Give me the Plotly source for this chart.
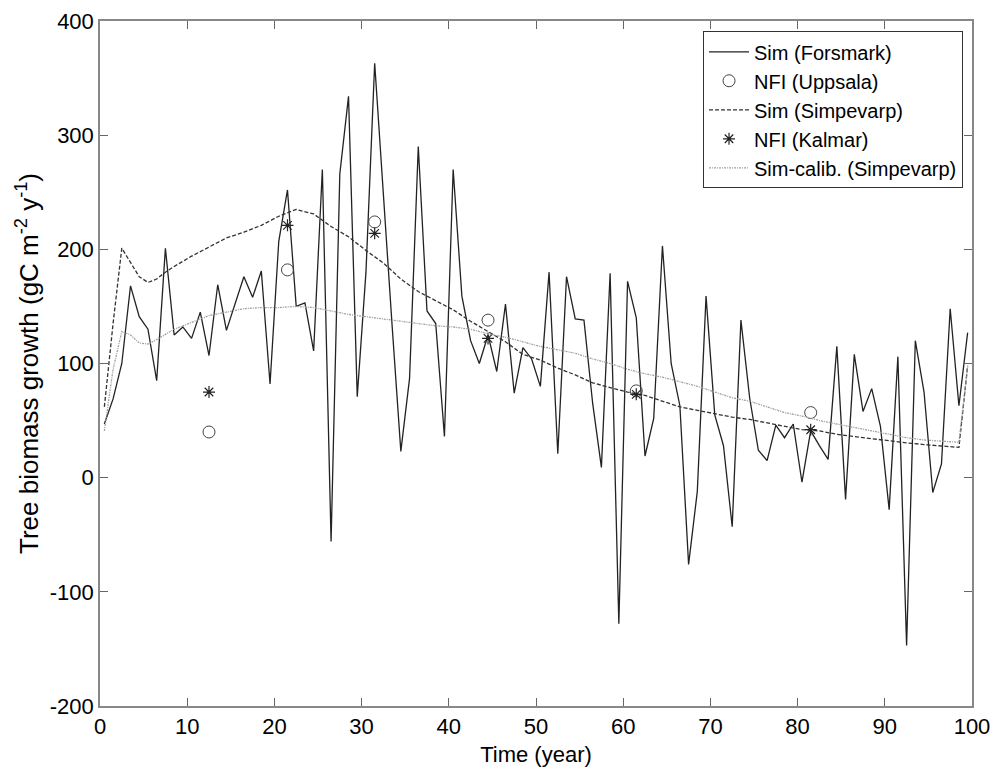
import plotly.graph_objects as go

# ---- data ----
forsmark_years = [i + 0.5 for i in range(100)]
forsmark = [47, 69, 100, 168, 141, 130, 85, 201, 125, 132,
            122, 145, 107, 169, 129, 152, 176, 158, 181, 82,
            207, 252, 150, 153, 111, 270, -56, 266, 334, 71,
            180, 363, 245, 133, 23, 87, 290, 146, 135, 36,
            270, 159, 120, 100, 125, 93, 152, 74, 114, 104,
            80, 180, 21, 176, 139, 138, 65, 9, 179, -128,
            172, 140, 19, 52, 203, 100, 63, -76, -12, 159,
            55, 28, -43, 138, 70, 24, 15, 46, 35, 47,
            -4, 41, 28, 16, 115, -19, 108, 58, 78, 45,
            -28, 106, -147, 120, 75, -13, 12, 148, 63, 127]

simp_years = [0.5, 1.5, 2.5, 3.5, 4.5, 5.5, 6.5, 7.5, 8.5, 10.5, 12.5, 14.5, 16.5,
              18.5, 20.5, 22.5, 24.5, 26.5, 28.5, 30.5, 32.5, 34.5, 36.5, 38.5,
              40.5, 42.5, 44.5, 46.5, 48.5, 50.5, 52.5, 54.5, 56.5, 58.5, 60.5,
              62.5, 64.5, 66.5, 68.5, 70.5, 72.5, 74.5, 76.5, 78.5, 80.5, 82.5,
              84.5, 86.5, 88.5, 90.5, 92.5, 94.5, 96.5, 98.5, 99.5]
simpevarp = [62, 135, 201, 188, 176, 171, 174, 180, 185, 194, 202, 210, 215,
             221, 229, 235, 231, 220, 211, 199, 188, 174, 163, 155,
             147, 137, 128, 119, 108, 103, 96, 90, 83, 79, 75,
             72, 67, 62, 59, 56, 53, 51, 48, 45, 42, 41,
             38, 36, 34, 32.5, 30.5, 29, 27.5, 26.5, 98]

calib_years = [0.5, 1.5, 2.5, 3.5, 4.5, 5.5, 6.5, 8.5, 10.5, 12.5, 14.5, 16.5,
               18.5, 20.5, 22.5, 24.5, 26.5, 28.5, 30.5, 32.5, 34.5, 36.5, 38.5,
               40.5, 42.5, 44.5, 46.5, 48.5, 50.5, 52.5, 54.5, 56.5, 58.5, 60.5,
               62.5, 64.5, 66.5, 68.5, 70.5, 72.5, 74.5, 76.5, 78.5, 80.5, 82.5,
               84.5, 86.5, 88.5, 90.5, 92.5, 94.5, 96.5, 98.5, 99.5]
simp_calib = [41, 95, 128, 125, 118, 117, 121, 130, 136, 142, 145, 148,
              149, 149, 150, 149, 146, 143, 141, 139, 137, 135, 133,
              132, 130, 126, 123, 119, 115, 112, 109, 104, 100, 95,
              91, 88, 84, 80, 75, 70, 67, 62, 57, 54, 50,
              47, 44, 41, 38, 35, 33, 32, 31, 97]

nfi_years = [12.5, 21.5, 31.5, 44.5, 61.5, 81.5]
nfi_uppsala = [40, 182, 224, 138, 76, 57]
nfi_kalmar = [75, 221, 214, 122, 73, 42]

x_ticks = [0, 10, 20, 30, 40, 50, 60, 70, 80, 90, 100]
y_ticks = [-200, -100, 0, 100, 200, 300, 400]

FONT = "Liberation Sans, Arial, sans-serif"

fig = go.Figure()
fig.add_trace(go.Scatter(x=forsmark_years, y=forsmark, mode="lines",
                         name="Sim (Forsmark)",
                         line=dict(color="#222222", width=1.3)))
fig.add_trace(go.Scatter(x=nfi_years, y=nfi_uppsala, mode="markers",
                         name="NFI (Uppsala)",
                         marker=dict(symbol="circle-open", size=12,
                                     color="#444444", line=dict(width=1))))
fig.add_trace(go.Scatter(x=simp_years, y=simpevarp, mode="lines",
                         name="Sim (Simpevarp)",
                         line=dict(color="#333333", width=1.3, dash="4px,2px")))
fig.add_trace(go.Scatter(x=nfi_years, y=nfi_kalmar, mode="markers",
                         name="NFI (Kalmar)",
                         marker=dict(symbol="asterisk-open", size=10,
                                     color="#222222", line=dict(width=1.2))))
fig.add_trace(go.Scatter(x=calib_years, y=simp_calib, mode="lines",
                         name="Sim-calib. (Simpevarp)",
                         line=dict(color="#a0a0a0", width=1.3, dash="2px,1px,1px,1px")))

axis_common = dict(showgrid=False, zeroline=False, showline=True, linecolor="#888888",
                   linewidth=1.5, mirror="allticks", ticks="inside", ticklen=8,
                   tickcolor="#666666", tickwidth=1, automargin=False,
                   tickfont=dict(family=FONT, size=22, color="black"))

fig.update_layout(
    width=995, height=767,
    margin=dict(l=100, r=23, t=21, b=61),
    paper_bgcolor="white", plot_bgcolor="white",
    font=dict(family=FONT, size=22, color="black"),
    showlegend=True,
    legend=dict(x=0.9897, y=0.985, xanchor="right", yanchor="top",
                bgcolor="white", bordercolor="#333333", borderwidth=1,
                font=dict(family=FONT, size=20, color="black"),
                tracegroupgap=0, itemwidth=40),
    xaxis=dict(range=[0, 100], tickvals=x_ticks, ticktext=[str(v) for v in x_ticks],
               title=dict(text="Time (year)", font=dict(family=FONT, size=22)),
               **axis_common),
    yaxis=dict(range=[-200, 400], tickvals=y_ticks, ticktext=[str(v) for v in y_ticks],
               title=dict(text="Tree biomass growth (gC m<sup>-2</sup> y<sup>-1</sup>)",
                          font=dict(family=FONT, size=26), standoff=4),
               **axis_common),
)

fig.write_html("out.html")
